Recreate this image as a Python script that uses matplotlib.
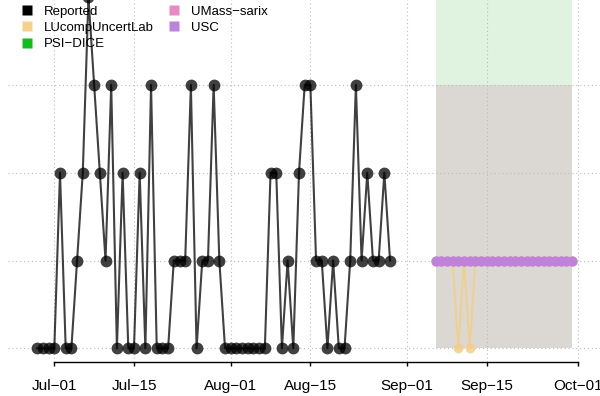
import numpy as np
import matplotlib
matplotlib.use("Agg")
import matplotlib.pyplot as plt
import matplotlib.dates as mdates
from matplotlib.lines import Line2D

plt.rcParams['font.family'] = ['Liberation Sans', 'DejaVu Sans']

# reported daily counts, 28 Jun - 29 Aug
reported_dates = np.arange('2023-06-28', '2023-08-30', dtype='datetime64[D]')
reported = [0, 0, 0, 0, 2, 0, 0, 1, 2, 4, 3, 2, 1, 3, 0, 2, 0, 0, 2, 0, 3,
            0, 0, 0, 1, 1, 1, 3, 0, 1, 1, 3, 1, 0, 0, 0, 0, 0, 0, 0, 0, 2,
            2, 0, 1, 0, 2, 3, 3, 1, 1, 0, 1, 0, 0, 1, 3, 1, 2, 1, 1, 2, 1]

# forecasts, 6 Sep - 30 Sep
fc_dates = np.arange('2023-09-06', '2023-10-01', dtype='datetime64[D]')
lucomp = [1, 1, 1, 1, 0, 1, 0, 1, 1, 1, 1, 1, 1, 1, 1, 1, 1, 1, 1, 1, 1, 1, 1, 1, 1]
usc = [1] * 25
interval_lo = [0] * 25
interval_hi = [3] * 25
psi_hi = [6] * 25

tick_dates = ['2023-07-01', '2023-07-15', '2023-08-01', '2023-08-15',
              '2023-09-01', '2023-09-15', '2023-10-01']
tick_labels = ['Jul\u221201', 'Jul\u221215', 'Aug\u221201', 'Aug\u221215',
               'Sep\u221201', 'Sep\u221215', 'Oct\u221201']

legend_names = ['Reported', 'LUcompUncertLab', 'PSI\u2212DICE', 'UMass\u2212sarix', 'USC']
legend_colors = ['black', '#F6D18C', '#12BB1E', '#E98AC6', '#BC82DE']

fig = plt.figure(figsize=(6, 3.96), dpi=100)
ax = fig.add_axes([8 / 600, 34 / 396, 592 / 600, 362 / 396])

rd = mdates.date2num(reported_dates)
fd = mdates.date2num(fc_dates)
ticks = mdates.date2num(np.array(tick_dates, dtype='datetime64[D]'))

# intervals
ax.fill_between(fd, interval_hi, psi_hi, color='#DFF3E0', lw=0, zorder=1)
ax.fill_between(fd, interval_lo, interval_hi, color='#DBD8D4', lw=0, zorder=1)

# grid
for t in ticks:
    ax.axvline(t, color='#BBBBBB', lw=0.8, ls=(0, (1, 2.5)), zorder=2)
for lev in [0, 1, 2, 3]:
    ax.axhline(lev, color='#BBBBBB', lw=0.8, ls=(0, (1, 2.5)), zorder=2)

ax.plot(fd, lucomp, color='#F3CE85', alpha=0.85, lw=1.5, marker='o', ms=7,
        mec='none', zorder=3)
ax.plot(fd, usc, color='#BF82D6', lw=2, marker='o', ms=7.5, mec='none', zorder=4)
ax.plot(rd, reported, color='black', alpha=0.75, lw=1.5, marker='o', ms=8.5,
        mec='none', zorder=5)

jul1 = ticks[0]
ax.set_xlim(jul1 - 8.14, jul1 + 95.9)
ax.set_ylim(-0.156, 3.968)

ax.set_xticks(ticks)
ax.set_xticklabels(tick_labels, fontsize=11)
ax.set_yticks([])
for s in ['top', 'right', 'left']:
    ax.spines[s].set_visible(False)
ax.spines['bottom'].set_bounds(ticks[0], ticks[-1])
ax.spines['bottom'].set_linewidth(1.0)
ax.tick_params(axis='x', length=3, width=1.0, pad=9)
ax.patch.set_visible(False)

handles = [Line2D([], [], ls='none', marker='s', ms=7, color=c, mec='none')
           for c in legend_colors]
fig.legend(handles, legend_names,
           ncol=2, loc='upper left', bbox_to_anchor=(14 / 600, 1 + 1 / 396),
           frameon=False, fontsize=9.5, handlelength=1.0, handletextpad=0.8,
           columnspacing=1.0, labelspacing=0.3, borderpad=0)

fig.savefig('out.png', dpi=100)
